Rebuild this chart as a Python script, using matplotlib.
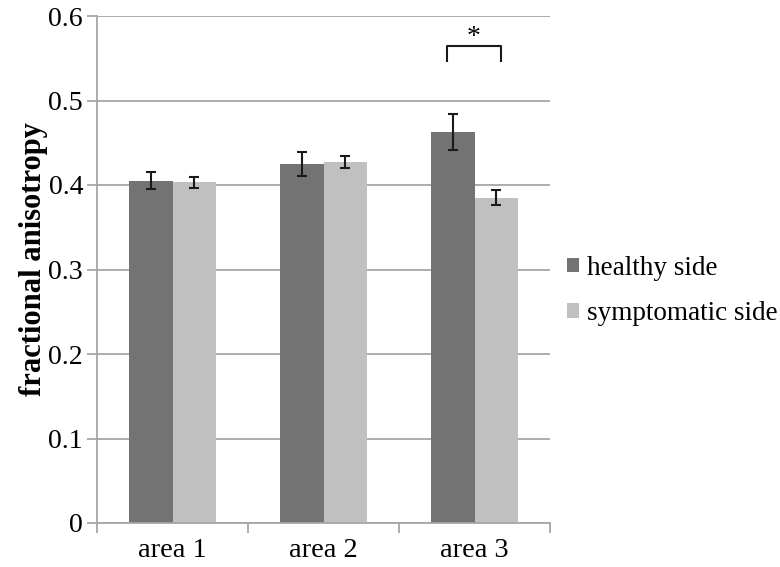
import matplotlib
matplotlib.use("Agg")
import matplotlib.pyplot as plt
import numpy as np

categories = ["area 1", "area 2", "area 3"]
healthy = [0.405, 0.425, 0.463]
healthy_err = [0.010, 0.014, 0.021]
symptomatic = [0.403, 0.427, 0.385]
symptomatic_err = [0.006, 0.007, 0.009]
series_names = ["healthy side", "symptomatic side"]
yticks = [0, 0.1, 0.2, 0.3, 0.4, 0.5, 0.6]
ytick_labels = ["0", "0.1", "0.2", "0.3", "0.4", "0.5", "0.6"]

plt.rcParams['font.family'] = ['Liberation Serif', 'DejaVu Serif']

fig = plt.figure(figsize=(7.8, 5.67), dpi=100)
ax = fig.add_axes([97/780, (567-523)/567, (550-97)/780, (523-16)/567])

x = np.arange(len(categories))
w = 0.287
c_h = "#737373"
c_s = "#c0c0c0"
ax.bar(x - w/2, healthy, w, color=c_h, label=series_names[0], zorder=2)
ax.bar(x + w/2, symptomatic, w, color=c_s, label=series_names[1], zorder=2)
ax.errorbar(x - w/2, healthy, yerr=healthy_err, fmt='none', ecolor='#1a1a1a',
            elinewidth=1.5, capsize=3.3, capthick=1.5, zorder=3)
ax.errorbar(x + w/2, symptomatic, yerr=symptomatic_err, fmt='none', ecolor='#1a1a1a',
            elinewidth=1.5, capsize=3.3, capthick=1.5, zorder=3)

ax.set_xlim(-0.5, 2.5)
ax.set_ylim(0, 0.6)
ax.set_yticks(yticks)
ax.set_yticklabels(ytick_labels, fontsize=20)
ax.yaxis.grid(True, color="#a6a6a6", linewidth=1.3, zorder=0)
ax.set_axisbelow(True)
ax.set_xticks(x)
ax.set_xticklabels(categories, fontsize=20.5)
ax.set_xticks([-0.5, 0.5, 1.5, 2.5], minor=True)
ax.tick_params(axis='x', which='major', length=0, pad=11)
ax.tick_params(axis='x', which='minor', length=7, color="#a6a6a6", width=1.3)
ax.tick_params(axis='y', length=7, color="#a6a6a6", width=1.3, pad=3)
for s in ["top", "right"]:
    ax.spines[s].set_visible(False)
for s in ["left", "bottom"]:
    ax.spines[s].set_color("#a6a6a6")
    ax.spines[s].set_linewidth(1.3)

ax.set_ylabel("fractional anisotropy", fontsize=22, fontweight='bold', labelpad=3)
ax.yaxis.set_label_coords(-0.108, 0.52)

# significance bracket
bx0, bx1 = 1.815, 2.175
ax.plot([bx0, bx0, bx1, bx1], [0.547, 0.565, 0.565, 0.547], color="#1a1a1a", lw=1.5, clip_on=False)
ax.text((bx0 + bx1)/2, 0.574, "*", ha='center', va='center', fontsize=20)

leg = ax.legend(loc='center left', bbox_to_anchor=(1.037, 0.458), frameon=False,
                fontsize=19.5, handlelength=0.45, handleheight=0.45, handletextpad=0.3,
                labelspacing=0.75, borderpad=0, borderaxespad=0)

fig.savefig("out.png", dpi=100)
